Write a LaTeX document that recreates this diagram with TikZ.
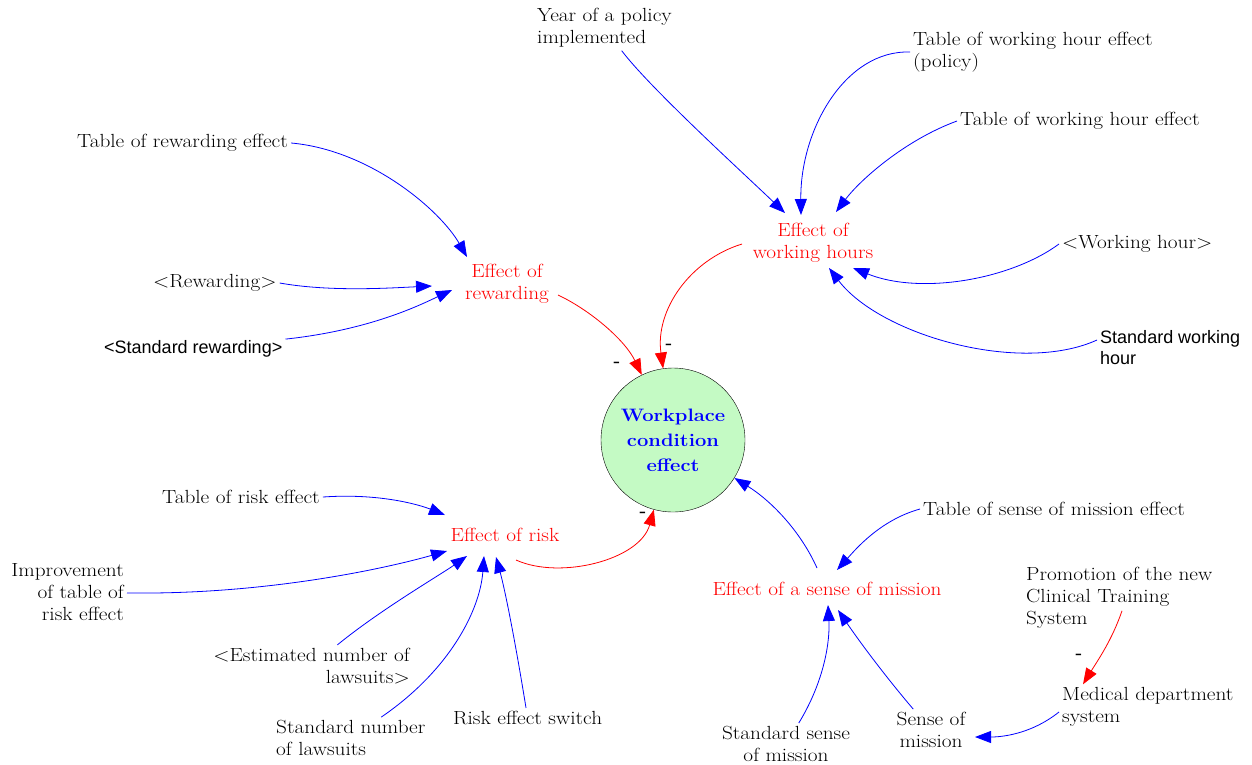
\documentclass[tikz,border=0pt]{standalone}
\usepackage{fontspec}
\setmainfont{Latin Modern Roman}[FakeStretch=1.12]
\newfontfamily\arialf{Liberation Sans}
\usetikzlibrary{arrows.meta}
\definecolor{cgreen}{RGB}{196,250,196}
\begin{document}
\begin{tikzpicture}[x=1pt,y=-1pt,
  lbl/.style={font=\fontsize{19}{22}\selectfont, align=left, inner sep=3pt},
  sanslbl/.style={font=\arialf\fontsize{18}{21}\selectfont, align=left, inner sep=3pt},
  var/.style={lbl, text=red, align=center},
  minus/.style={font=\bfseries\fontsize{16}{16}\selectfont, inner sep=0pt},
  blink/.style={draw=blue, line width=0.8pt, -{Triangle[length=16pt,width=12pt]}},
  rlink/.style={draw=red, line width=0.8pt, -{Triangle[length=16pt,width=12pt]}},
]
\useasboundingbox (0,0) rectangle (1252,764);

% nodes
\node[lbl, anchor=west] (yr) at (534,28) {Year of a policy\\implemented};
\node[lbl, anchor=west] (twp) at (910,52) {Table of working hour effect\\(policy)};
\node[lbl, anchor=west] (twh) at (957,121) {Table of working hour effect};
\node[var] (ewh) at (813,243) {Effect of\\working hours};
\node[lbl, anchor=west] (wh) at (1059,244) {<Working hour>};
\node[sanslbl, anchor=west] (swh) at (1097,348) {Standard working\\hour};

\node[lbl, anchor=west] (tre) at (74,143) {Table of rewarding effect};
\node[var] (er) at (507,284) {Effect of\\rewarding};
\node[lbl, anchor=west] (rew) at (150,283) {<Rewarding>};
\node[sanslbl, anchor=west] (srew) at (101,349) {<Standard rewarding>};

\node[circle, draw=black, fill=cgreen, minimum size=144pt, inner sep=0pt,
      font=\bfseries\fontsize{18}{25}\selectfont, text=blue, align=center] (wc) at (673,440)
      {Workplace\\condition\\effect};

\node[lbl, anchor=west] (tri) at (159,497) {Table of risk effect};
\node[var] (eri) at (505,535) {Effect of risk};
\node[lbl, anchor=east, align=right] (imp) at (127,592) {Improvement\\of table of\\risk effect};
\node[lbl, anchor=east, align=right] (est) at (413,666) {<Estimated number of\\lawsuits>};
\node[lbl, anchor=west] (snl) at (273,738) {Standard number\\of lawsuits};
\node[lbl, anchor=west] (rsw) at (450,718) {Risk effect switch};

\node[lbl, anchor=west] (tsm) at (920,509) {Table of sense of mission effect};
\node[var] (esm) at (827,589) {Effect of a sense of mission};
\node[lbl, anchor=west] (pro) at (1023,598) {Promotion of the new\\Clinical Training\\System};
\node[lbl, anchor=west] (med) at (1059,707) {Medical department\\system};
\node[lbl, align=center] (ssm) at (786,744) {Standard sense\\of mission};
\node[lbl, align=center] (som) at (931,730) {Sense of\\mission};

\node[minus] (m1) at (617,364) {-};
\node[minus] (m2) at (669,346) {-};
\node[minus] (m3) at (643,514) {-};
\node[minus] (m4) at (1079,656) {-};

% connectors: working hours
\draw[blink] (yr) .. controls (650,88) and (740,170) .. ([shift={(-28pt,30pt)}]ewh.center);
\draw[blink] (twp.west) .. controls (845,50) and (800,130) .. ([shift={(-12pt,28pt)}]ewh.center);
\draw[blink] (twh.west) .. controls (905,140) and (860,180) .. ([shift={(23pt,31pt)}]ewh.center);
\draw[blink] (wh.west) .. controls (1010,280) and (920,295) .. ([shift={(40pt,-25pt)}]ewh.center);
\draw[blink] ([yshift=8pt]swh.west) .. controls (1020,375) and (880,335) .. ([shift={(16pt,-25pt)}]ewh.center);
\draw[rlink] ([shift={(-71pt,-1pt)}]ewh.center) .. controls (690,260) and (655,310) .. (wc);

% rewarding
\draw[blink] (tre.east) .. controls (370,150) and (440,210) .. ([shift={(-40pt,27pt)}]er.center);
\draw[blink] (rew.east) .. controls (330,292) and (390,288) .. ([shift={(-75pt,-2pt)}]er.center);
\draw[blink] (srew) .. controls (370,330) and (420,305) .. ([shift={(-55pt,-6pt)}]er.center);
\draw[rlink] ([shift={(51pt,-11pt)}]er.center) .. controls (590,310) and (625,340) .. (wc);

% risk
\draw[blink] (tri.east) .. controls (380,493) and (420,505) .. ([shift={(-60pt,20pt)}]eri.center);
\draw[blink] (imp) .. controls (260,595) and (380,570) .. ([shift={(-58pt,-16pt)}]eri.center);
\draw[blink] (est) .. controls (380,610) and (440,575) .. ([shift={(-38pt,-21pt)}]eri.center);
\draw[blink] (snl) .. controls (450,670) and (480,610) .. ([shift={(-21pt,-21pt)}]eri.center);
\draw[blink] (rsw) .. controls (515,640) and (505,590) .. ([shift={(-9pt,-22pt)}]eri.center);
\draw[rlink] ([shift={(11pt,-25pt)}]eri.center) .. controls (560,580) and (640,560) .. (wc);

% sense of mission
\draw[blink] ([shift={(-10pt,21pt)}]esm.center) .. controls (800,530) and (770,500) .. (wc);
\draw[blink] (tsm.west) .. controls (880,520) and (855,550) .. ([shift={(10pt,19pt)}]esm.center);
\draw[blink] (ssm) .. controls (825,680) and (830,640) .. ([shift={(1pt,-16pt)}]esm.center);
\draw[blink] (som) .. controls (880,670) and (855,635) .. ([shift={(11pt,-21pt)}]esm.center);
\draw[rlink] ([shift={(99pt,21pt)}]pro.south west) .. controls (1112,640) and (1098,660) .. ([xshift=24pt]med.north west);
\draw[blink] ([yshift=-5pt]med.west) .. controls (1030,735) and (1000,737) .. ([shift={(44pt,-7pt)}]som.center);
\end{tikzpicture}
\end{document}
